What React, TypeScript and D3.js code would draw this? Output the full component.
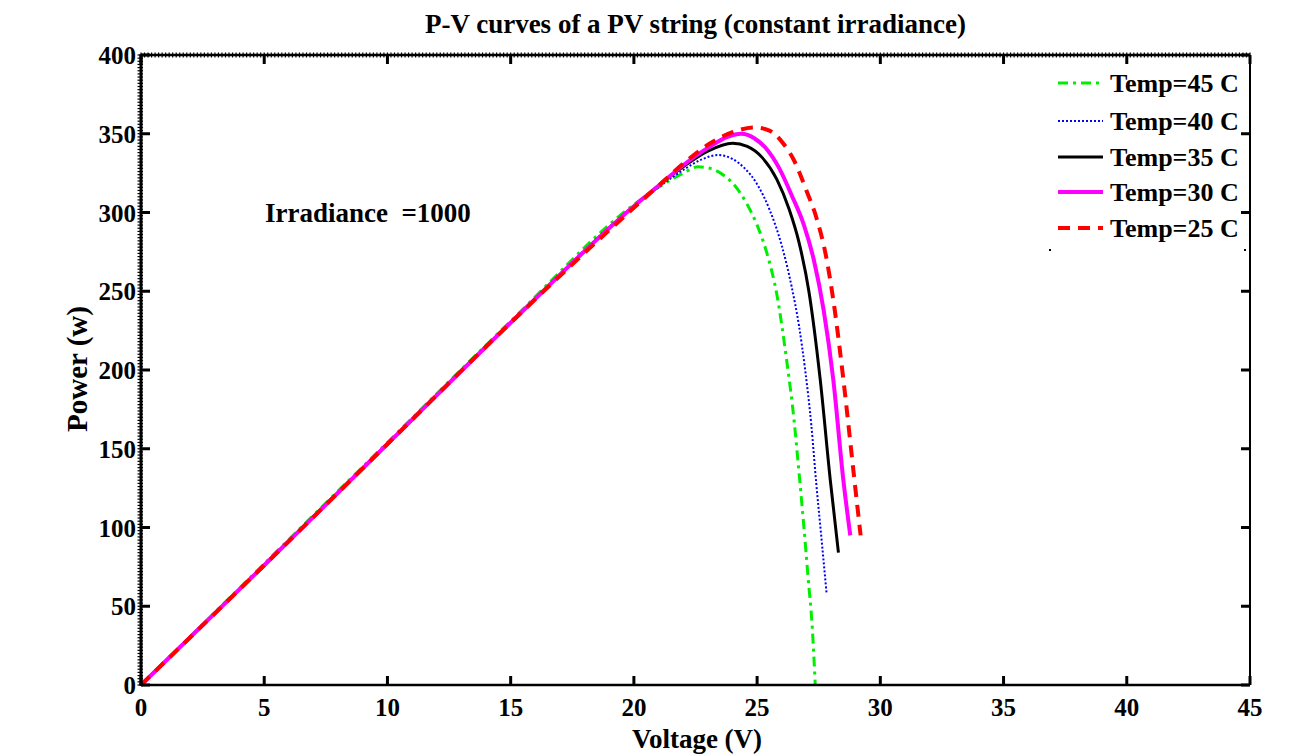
import React from "react";
import * as d3 from "d3";

const xTicks = [0, 5, 10, 15, 20, 25, 30, 35, 40, 45];
const yTicks = [0, 50, 100, 150, 200, 250, 300, 350, 400];

const v45 = [0, 5, 10, 15, 20, 21, 22, 22.6, 23.2, 23.7, 24.1, 24.6, 25.0, 25.4, 25.8, 26.2, 26.5, 26.7, 26.9, 27.07, 27.24, 27.36];
const p45 = [0, 77, 154, 231, 305, 316, 325, 329, 327.5, 323, 317, 305, 292, 274, 248, 206, 168, 135, 100, 68, 36, 0];

const v40 = [0, 5, 10, 15, 20, 21, 22, 22.8, 23.4, 24.0, 24.5, 25.0, 25.5, 26.0, 26.4, 26.7, 26.95, 27.2, 27.4, 27.6, 27.82];
const p40 = [0, 76, 153, 230, 304, 316, 327, 334, 336.5, 334, 328, 318, 302, 279, 253, 228, 200, 165, 128, 95, 58];

const v35 = [0, 5, 10, 15, 20, 21, 22, 23, 24.0, 24.6, 25.2, 25.8, 26.3, 26.7, 27.1, 27.56, 27.97, 28.3];
const p35 = [0, 76, 153, 230, 304, 317, 329, 339, 344, 342, 335, 321, 302, 281, 250, 194, 130, 84];

const v30 = [0, 5, 10, 15, 20, 21, 22, 23, 23.8, 24.35, 24.9, 25.4, 25.9, 26.4, 26.9, 27.3, 27.7, 28.09, 28.5, 28.78];
const p30 = [0, 76, 153, 230, 304, 317, 330, 341, 348, 350, 347, 340, 328, 311, 292, 270, 238, 194, 130, 95];

const v25 = [0, 5, 10, 15, 20, 21, 22, 23, 24, 24.9, 25.5, 26.0, 26.5, 27.0, 27.4, 27.8, 28.15, 28.5, 28.95, 29.2];
const p25 = [0, 76, 153, 230, 303, 317, 331, 343, 351, 354, 352, 345, 333, 314, 297, 272, 238, 194, 130, 95];

const seriesNames = ["Temp=45 C", "Temp=40 C", "Temp=35 C", "Temp=30 C", "Temp=25 C"];

const styles = [
  { color: "#00ee00", width: 3, dash: "10,5,3,5" },
  { color: "#0000ff", width: 2, dash: "2,2" },
  { color: "#000000", width: 3, dash: "" },
  { color: "#ff00ff", width: 4, dash: "" },
  { color: "#ff0000", width: 4, dash: "12,8" },
];

const W = 1296, H = 756;
const L = 141, R = 1250, T = 55, B = 685;
const FONT = "'Liberation Serif', 'Times New Roman', serif";

export default function App() {
  const x = d3.scaleLinear().domain([0, 45]).range([L, R]);
  const y = d3.scaleLinear().domain([0, 400]).range([B, T]);
  const line = d3
    .line<[number, number]>()
    .x((d) => x(d[0]))
    .y((d) => y(d[1]))
    .curve(d3.curveMonotoneX);

  const data: [number, number][][] = [
    v45.map((v, i) => [v, p45[i]]),
    v40.map((v, i) => [v, p40[i]]),
    v35.map((v, i) => [v, p35[i]]),
    v30.map((v, i) => [v, p30[i]]),
    v25.map((v, i) => [v, p25[i]]),
  ];

  const xMinor = d3.range(0, 45.0001, 5 / 35);
  const yMinor = d3.range(0, 400.0001, 2);

  const legendY = [83, 121, 157, 192, 228];

  return (
    <svg width={W} height={H} style={{ position: "absolute", left: 0, top: 0, background: "#fff" }} fontFamily={FONT}>
      <rect x={0} y={0} width={W} height={H} fill="#fff" />
      {data.map((d, i) => (
        <path
          key={i}
          d={line(d) || ""}
          fill="none"
          stroke={styles[i].color}
          strokeWidth={styles[i].width}
          strokeDasharray={styles[i].dash}
        />
      ))}
      <line x1={L} x2={L} y1={T - 1} y2={B + 1} stroke="#000" strokeWidth={3} />
      <line x1={L} x2={R} y1={T} y2={T} stroke="#000" strokeWidth={2.5} />
      <line x1={R} x2={R} y1={T} y2={B} stroke="#000" strokeWidth={2} />
      <line x1={L} x2={R} y1={B} y2={B} stroke="#000" strokeWidth={2.5} />
      {xMinor.map((v, i) => (
        <line key={"tm" + i} x1={x(v)} x2={x(v)} y1={T - 2.5} y2={T + 2.5} stroke="#000" strokeWidth={1.2} />
      ))}
      {yMinor.map((v, i) => (
        <line key={"lm" + i} x1={L - 3.5} x2={L + 2} y1={y(v)} y2={y(v)} stroke="#000" strokeWidth={1.2} />
      ))}
      {xTicks.map((v) => (
        <g key={"xt" + v}>
          <line x1={x(v)} x2={x(v)} y1={B} y2={B - 9} stroke="#000" strokeWidth={3} />
          <line x1={x(v)} x2={x(v)} y1={T} y2={T + 9} stroke="#000" strokeWidth={3} />
          <text x={x(v)} y={716} textAnchor="middle" fontSize={25} fontWeight="bold">
            {v}
          </text>
        </g>
      ))}
      {yTicks.map((v) => (
        <g key={"yt" + v}>
          <line x1={L} x2={L + 9} y1={y(v)} y2={y(v)} stroke="#000" strokeWidth={3} />
          <line x1={R} x2={R - 9} y1={y(v)} y2={y(v)} stroke="#000" strokeWidth={3} />
          <text x={L - 5} y={y(v) + 9} textAnchor="end" fontSize={25} fontWeight="bold">
            {v}
          </text>
        </g>
      ))}
      <text x={(L + R) / 2} y={33} textAnchor="middle" fontSize={27} fontWeight="bold">
        P-V curves of a PV string (constant irradiance)
      </text>
      <text x={697} y={748} textAnchor="middle" fontSize={27} fontWeight="bold">
        Voltage (V)
      </text>
      <text transform={`translate(87, 369) rotate(-90)`} textAnchor="middle" fontSize={29} fontWeight="bold">
        Power (w)
      </text>
      <text x={265} y={222} fontSize={27} fontWeight="bold" style={{ whiteSpace: "pre" }}>
        {"Irradiance  =1000"}
      </text>
      {seriesNames.map((n, i) => (
        <g key={"lg" + i}>
          <line
            x1={1058}
            x2={1103}
            y1={legendY[i]}
            y2={legendY[i]}
            stroke={styles[i].color}
            strokeWidth={styles[i].width}
            strokeDasharray={styles[i].dash}
          />
          <text x={1110} y={legendY[i] + 9} fontSize={26} fontWeight="bold">
            {n}
          </text>
        </g>
      ))}
      <rect x={1049} y={249} width={2} height={2} fill="#000" />
      <rect x={1244} y={249} width={2} height={2} fill="#000" />
    </svg>
  );
}
